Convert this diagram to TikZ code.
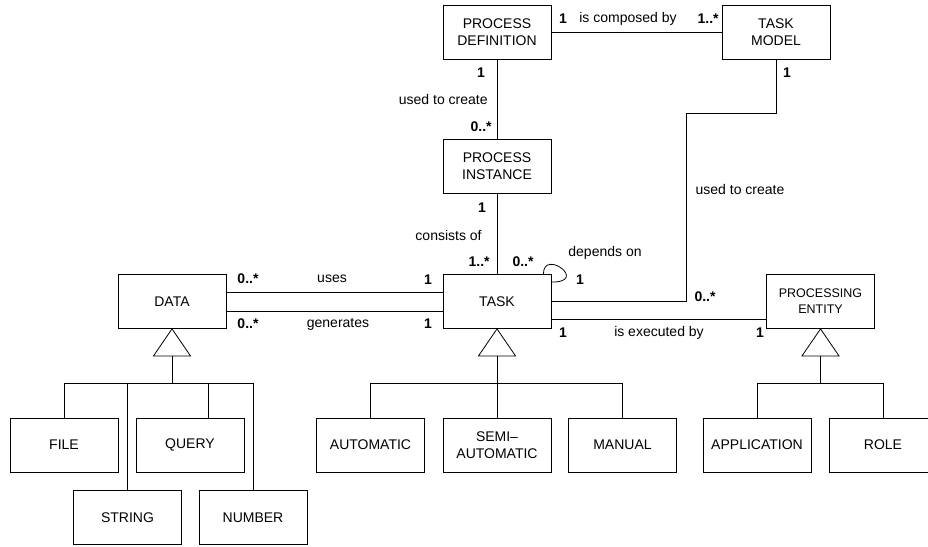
\documentclass[tikz,border=0pt]{standalone}
\usepackage{fontspec}
\setmainfont{Liberation Sans}
\usetikzlibrary{positioning}
\tikzset{
  cls/.style={draw, minimum width=108pt, minimum height=54pt, inner sep=1pt, align=center},
  mult/.style={font=\fontsize{14}{17}\selectfont\bfseries, inner sep=0pt},
  lbl/.style={inner sep=0pt},
}
\begin{document}
\begin{tikzpicture}[x=1pt,y=-1pt,line width=0.8pt,font=\fontsize{14}{17}\selectfont]
\useasboundingbox (0,0) rectangle (928,546);
\clip (0,0) rectangle (928,546);

\node[cls] (pd) at (497,32) {PROCESS\\DEFINITION};
\node[cls] (tm) at (776,32) {TASK\\MODEL};
\node[cls] (pi) at (497,166) {PROCESS\\INSTANCE};
\node[cls] (task) at (497,301.5) {TASK};
\node[cls] (data) at (172,301.5) {DATA};
\node[cls,font=\fontsize{12.5}{16}\selectfont] (pe) at (820.5,301.5) {PROCESSING\\ENTITY};

\node[cls] (file) at (64,445) {FILE};
\node[cls] (query) at (190,445) {QUERY};
\node[cls] (string) at (127.5,517.5) {STRING};
\node[cls] (number) at (253,517.5) {NUMBER};
\node[cls] (auto) at (370.5,445) {AUTOMATIC};
\node[cls] (semi) at (497,445) {SEMI--\\AUTOMATIC};
\node[cls] (manual) at (622.5,445) {MANUAL};
\node[cls] (app) at (757,445) {APPLICATION};
\node[cls] (role) at (883,445) {ROLE};

\foreach \c in {data,task,pe}
  \draw (\c.south) -- ++(-18.5,27) -- ++(37,0) -- cycle;

\draw (data.south) ++(0,27) -- ++(0,27) coordinate (dj);
\draw (file.north) |- (number.north |- dj) -- (number.north);
\draw (string.north |- dj) -- (string.north);
\draw ([xshift=18pt]query.north |- dj) -- ([xshift=18pt]query.north);

\draw (task.south) ++(0,27) -- ++(0,27) coordinate (tj);
\draw (auto.north) |- (manual.north |- tj) -- (manual.north);
\draw (tj) -- (semi.north);

\draw (pe.south) ++(0,27) -- ++(0,27) coordinate (pj);
\draw (app.north) |- (role.north |- pj) -- (role.north);

\draw (pd) -- (tm);
\draw (pd) -- (pi);
\draw (pi) -- (task);
\coordinate (bend) at (686,113);
\draw (tm) |- (bend) |- (task);
\draw ([yshift=9.5pt]data.east) -- ([yshift=9.5pt]task.west);
\draw ([yshift=-9.5pt]data.east) -- ([yshift=-9.5pt]task.west);
\draw ([yshift=-17.5pt]task.east) -- ([yshift=-17.5pt]pe.west);
\draw ([xshift=-8pt]task.north east) .. controls +(0,-26) and +(38,0) .. ([yshift=-8pt]task.north east);

\node[mult] (m1) at (563,19) {1};
\node[lbl] (l1) at (628,19) {is composed by};
\node[mult,anchor=east] (m2) at (719,19) {1..*};
\node[mult] (m3) at (481,73) {1};
\node[lbl,anchor=east] (l2) at (488,99) {used to create};
\node[mult,anchor=east] (m4) at (492,127) {0..*};
\node[mult] (m5) at (787,73) {1};
\node[lbl] (l3) at (740,189) {used to create};
\node[mult] (m6) at (482,208) {1};
\node[lbl,anchor=east] (l4) at (482,235) {consists of};
\node[mult,anchor=east] (m7) at (490,262) {1..*};
\node[mult] (m8) at (523,262) {0..*};
\node[lbl] (l5) at (605,253) {depends on};
\node[mult] (m9) at (580,280) {1};
\node[mult] (m10) at (705,297) {0..*};
\node[mult] (m11) at (248,279) {0..*};
\node[lbl] (l6) at (332,279) {uses};
\node[mult] (m12) at (428,280) {1};
\node[mult] (m13) at (248,324) {0..*};
\node[lbl] (l7) at (338,324) {generates};
\node[mult] (m14) at (428,324) {1};
\node[mult] (m15) at (563,333) {1};
\node[lbl] (l8) at (659,333) {is executed by};
\node[mult] (m16) at (760,333) {1};

\end{tikzpicture}
\end{document}
